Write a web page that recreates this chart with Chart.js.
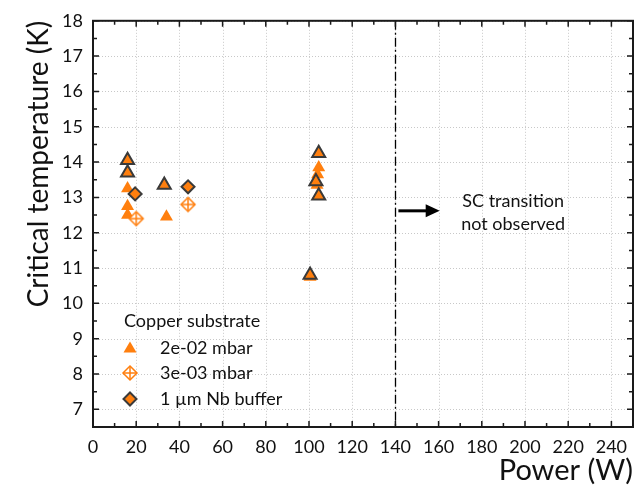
<!DOCTYPE html>
<html>
<head>
<meta charset="utf-8">
<script src="https://cdn.jsdelivr.net/npm/chart.js@4/dist/chart.umd.min.js"></script>
<style>
    html, body { margin: 0; padding: 0; background: #fff; }
    #wrap { width: 638px; height: 488px; }
</style>
</head>
<body>
<div id="wrap"><canvas id="tcChart"></canvas></div>
<script>
// Data
const power2e02 = [16, 16, 16, 34, 104.5, 104, 103.7, 100.5];
const tc2e02 = [13.25, 12.75, 12.5, 12.45, 13.85, 13.65, 13.35, 10.75];

const power3e03 = [20, 44];
const tc3e03 = [12.4, 12.8];

const powerNb = [19.5, 44];
const tcNb = [13.1, 13.3];

// dark-edged triangles (Nb buffer samples drawn as triangles)
const powerNbTri = [16, 16, 33, 104.5, 103.2, 104.5, 100.5];
const tcNbTri = [14.05, 13.7, 13.35, 14.25, 13.45, 13.05, 10.8];

const xTicks = [0, 20, 40, 60, 80, 100, 120, 140, 160, 180, 200, 220, 240];
const yTicks = [7, 8, 9, 10, 11, 12, 13, 14, 15, 16, 17, 18];
const cutoffPower = 140;

const orange = '#ff7f0e';
const dark = '#3a3a3a';
const fontFamily = 'Lato, "Open Sans", sans-serif';

// diamond with a cross inside (not a stock Chart.js point style)
function crossDiamond(r) {
    const c = document.createElement('canvas');
    const size = r * 2 + 4;
    c.width = size;
    c.height = size;
    const g = c.getContext('2d');
    const m = size / 2;
    g.strokeStyle = orange;
    g.lineWidth = 1.5;
    g.fillStyle = '#fff';
    g.beginPath();
    g.moveTo(m, m - r);
    g.lineTo(m + r, m);
    g.lineTo(m, m + r);
    g.lineTo(m - r, m);
    g.closePath();
    g.fill();
    g.stroke();
    g.beginPath();
    g.moveTo(m, m - r);
    g.lineTo(m, m + r);
    g.moveTo(m - r, m);
    g.lineTo(m + r, m);
    g.stroke();
    return c;
}
const crossMarker = crossDiamond(7);

function toPoints(xs, ys) {
    return xs.map((x, i) => ({ x: x, y: ys[i] }));
}

/**
 * Frame, inward ticks, grid, cutoff line, arrow, note and legend
 */
const decorations = {
    id: 'decorations',
    beforeDatasetsDraw(chart) {
        const { ctx, chartArea: a, scales: { x, y } } = chart;
        ctx.save();
        ctx.strokeStyle = '#c8c8c8';
        ctx.lineWidth = 1;
        ctx.setLineDash([1, 2]);
        ctx.beginPath();
        xTicks.forEach(v => {
            const px = Math.round(x.getPixelForValue(v)) + 0.5;
            ctx.moveTo(px, a.top);
            ctx.lineTo(px, a.bottom);
        });
        yTicks.forEach(v => {
            const py = Math.round(y.getPixelForValue(v)) + 0.5;
            ctx.moveTo(a.left, py);
            ctx.lineTo(a.right, py);
        });
        ctx.stroke();

        // dash-dot line at the cutoff power
        const cx = Math.round(x.getPixelForValue(cutoffPower)) + 0.5;
        ctx.strokeStyle = '#000';
        ctx.lineWidth = 1.3;
        ctx.setLineDash([9, 3, 2, 3]);
        ctx.beginPath();
        ctx.moveTo(cx, a.top);
        ctx.lineTo(cx, a.bottom);
        ctx.stroke();
        ctx.restore();
    },
    afterDatasetsDraw(chart) {
        const { ctx, chartArea: a, scales: { x, y } } = chart;
        ctx.save();

        // frame
        ctx.strokeStyle = '#1a1a1a';
        ctx.lineWidth = 2;
        ctx.strokeRect(a.left, a.top, a.right - a.left, a.bottom - a.top);

        // inward ticks on all four sides
        ctx.lineWidth = 1.5;
        ctx.beginPath();
        for (let v = 0; v <= 250; v += 10) {
            const px = x.getPixelForValue(v);
            const len = v % 20 === 0 ? 6 : 4;
            ctx.moveTo(px, a.bottom);
            ctx.lineTo(px, a.bottom - len);
            ctx.moveTo(px, a.top);
            ctx.lineTo(px, a.top + len);
        }
        for (let v = 7; v <= 18; v += 0.5) {
            const py = y.getPixelForValue(v);
            const len = v % 1 === 0 ? 6 : 4;
            ctx.moveTo(a.left, py);
            ctx.lineTo(a.left + len, py);
            ctx.moveTo(a.right, py);
            ctx.lineTo(a.right - len, py);
        }
        ctx.stroke();

        // arrow pointing to the no-transition region
        const ay = y.getPixelForValue(12.62);
        const ax0 = x.getPixelForValue(cutoffPower) + 3;
        const ax1 = x.getPixelForValue(160.5);
        ctx.strokeStyle = '#000';
        ctx.fillStyle = '#000';
        ctx.lineWidth = 3;
        ctx.beginPath();
        ctx.moveTo(ax0, ay);
        ctx.lineTo(ax1 - 10, ay);
        ctx.stroke();
        ctx.beginPath();
        ctx.moveTo(ax1, ay);
        ctx.lineTo(ax1 - 14, ay - 6.5);
        ctx.lineTo(ax1 - 14, ay + 6.5);
        ctx.closePath();
        ctx.fill();

        ctx.font = '18px ' + fontFamily;
        ctx.fillStyle = '#111';
        ctx.textAlign = 'center';
        ctx.textBaseline = 'middle';
        const tx = x.getPixelForValue(194.5);
        ctx.fillText('SC transition', tx, y.getPixelForValue(12.9));
        ctx.fillText('not observed', tx, y.getPixelForValue(12.25));

        // legend
        ctx.textAlign = 'left';
        ctx.fillText('Copper substrate', 124, 321);
        const rows = [
            { label: chart.data.datasets[0].label, y: 348 },
            { label: chart.data.datasets[1].label, y: 373 },
            { label: chart.data.datasets[2].label, y: 399 }
        ];
        const mx = 130;
        // triangle
        ctx.fillStyle = orange;
        ctx.beginPath();
        ctx.moveTo(mx, rows[0].y - 6.5);
        ctx.lineTo(mx + 6.5, rows[0].y + 4.5);
        ctx.lineTo(mx - 6.5, rows[0].y + 4.5);
        ctx.closePath();
        ctx.fill();
        // crossed diamond
        ctx.drawImage(crossMarker, mx - crossMarker.width / 2, rows[1].y - crossMarker.height / 2);
        // diamond
        ctx.fillStyle = orange;
        ctx.strokeStyle = dark;
        ctx.lineWidth = 2;
        ctx.beginPath();
        ctx.moveTo(mx, rows[2].y - 6.5);
        ctx.lineTo(mx + 6.5, rows[2].y);
        ctx.lineTo(mx, rows[2].y + 6.5);
        ctx.lineTo(mx - 6.5, rows[2].y);
        ctx.closePath();
        ctx.fill();
        ctx.stroke();

        ctx.fillStyle = '#111';
        rows.forEach(r => ctx.fillText(r.label, 160, r.y));
        ctx.restore();
    }
};

new Chart(document.getElementById('tcChart'), {
    type: 'scatter',
    data: {
        datasets: [
            {
                label: '2e-02 mbar',
                data: toPoints(power2e02, tc2e02),
                pointStyle: 'triangle',
                pointRadius: 7.5,
                backgroundColor: orange,
                borderColor: orange,
                borderWidth: 0,
                order: 3
            },
            {
                label: '3e-03 mbar',
                data: toPoints(power3e03, tc3e03),
                pointStyle: crossMarker,
                order: 2
            },
            {
                label: '1 \u00b5m Nb buffer',
                data: toPoints(powerNb, tcNb),
                pointStyle: 'rectRot',
                pointRadius: 6.5,
                backgroundColor: orange,
                borderColor: dark,
                borderWidth: 2,
                order: 1
            },
            {
                label: 'Nb buffer (triangles)',
                data: toPoints(powerNbTri, tcNbTri),
                pointStyle: 'triangle',
                pointRadius: 7.5,
                backgroundColor: orange,
                borderColor: dark,
                borderWidth: 2,
                order: 0
            }
        ]
    },
    options: {
        responsive: true,
        maintainAspectRatio: false,
        animation: false,
        layout: {
            autoPadding: false,
            padding: { left: 0, right: 5, top: 14, bottom: 0 }
        },
        plugins: {
            legend: { display: false },
            tooltip: { enabled: false }
        },
        scales: {
            x: {
                type: 'linear',
                min: 0,
                max: 250,
                afterBuildTicks: s => { s.ticks = xTicks.map(v => ({ value: v })); },
                afterFit: s => { s.height = 61; s.paddingRight = 0; },
                grid: { display: false, drawTicks: false },
                border: { display: false },
                ticks: {
                    color: '#111',
                    padding: 9,
                    maxRotation: 0,
                    font: { family: fontFamily, size: 18 }
                },
                title: {
                    display: true,
                    text: 'Power (W)',
                    align: 'end',
                    color: '#111',
                    padding: { top: 0, bottom: 0 },
                    font: { family: fontFamily, size: 29 }
                }
            },
            y: {
                type: 'linear',
                min: 6.5,
                max: 18,
                afterBuildTicks: s => { s.ticks = yTicks.map(v => ({ value: v })); },
                afterFit: s => { s.width = 93; },
                grid: { display: false, drawTicks: false },
                border: { display: false },
                ticks: {
                    color: '#111',
                    padding: 10,
                    font: { family: fontFamily, size: 18 }
                },
                title: {
                    display: true,
                    text: 'Critical temperature (K)',
                    align: 'end',
                    color: '#111',
                    padding: { top: 22, bottom: 0 },
                    font: { family: fontFamily, size: 28 }
                }
            }
        }
    },
    plugins: [decorations]
});
</script>
</body>
</html>
